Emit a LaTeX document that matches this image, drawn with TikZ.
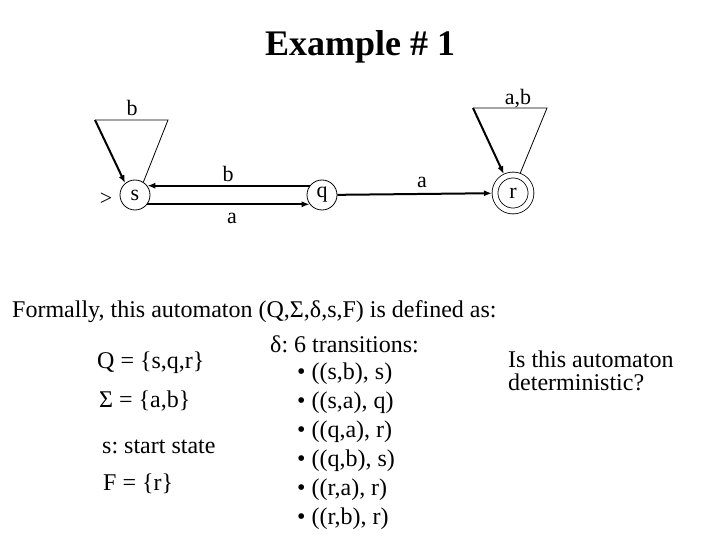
\documentclass[tikz,border=0pt]{standalone}
\usepackage{fontspec}
\setmainfont{Liberation Serif}
\frenchspacing
\usetikzlibrary{arrows.meta,positioning}

\tikzset{
  state/.style={draw,circle,line width=0.8bp,minimum size=30bp,inner sep=0pt,
    font=\fontsize{22bp}{26bp}\selectfont},
  accept/.style={state,minimum size=36bp,double,double distance=5bp,outer sep=3bp},
  trans/.style={line width=2bp,-{Latex[length=8bp,width=6bp]}},
  plain/.style={line width=0.8bp},
  lbl/.style={inner sep=0pt,anchor=base,font=\fontsize{22bp}{26bp}\selectfont},
  body/.style={inner sep=0pt,anchor=base west,font=\fontsize{24bp}{28bp}\selectfont},
}

\begin{document}
\begin{tikzpicture}[x=1bp,y=-1bp]
  \useasboundingbox (0,0) rectangle (720,540);
  \node[inner sep=0pt,anchor=base,font=\bfseries\fontsize{36bp}{40bp}\selectfont]
    (title) at (360,56) {Example \# 1};

  % states
  \node[state] (s) at (135,195) {s};
  \node[state] (q) at (322,195) {q};
  \node[accept] (r) at (513,193) {r};
  \node[lbl,anchor=center] (start) at (106,199) {>};

  % loop on s
  \coordinate (sl) at (95,120);
  \coordinate (sr) at (168,120);
  \draw[plain] (sl) -- (sr) -- (s.57);
  \draw[trans] (sl) -- (s.130);
  \node[lbl] (sb) at (132,116) {b};

  % s <-> q
  \draw[trans] (q.143) -- (s.37);
  \node[lbl] (qsb) at (228,182) {b};
  \draw[trans] (s.-37) -- (q.-143);
  \node[lbl] (sqa) at (232,224) {a};

  % q -> r
  \draw[trans] (q) -- (r);
  \node[lbl] (qra) at (422,188) {a};

  % loop on r
  \coordinate (rl) at (473,108);
  \coordinate (rr) at (547,108);
  \draw[plain] (rl) -- (rr) -- (r.70);
  \draw[trans] (rl) -- (r.116);
  \node[lbl] (rab) at (518,105) {a,b};

  % formal definition
  \node[body] (formal) at (12,317) {Formally, this automaton (Q,Σ,δ,s,F) is defined as:};
  \node[body] (delta) at (270,352) {δ: 6 transitions:};
  \node[body] (Qset) at (97,368) {Q = \{s,q,r\}};
  \node[body] (Sset) at (99,407) {Σ = \{a,b\}};
  \node[body] (startst) at (102,453) {s: start state};
  \node[body] (Fset) at (103,490) {F = \{r\}};
  \node[body] (ask1) at (508,367) {Is this automaton};
  \node[body] (ask2) at (508,390) {deterministic?};
  \foreach \t [count=\i] in {{((s,b), s)},{((s,a), q)},{((q,a), r)},
                             {((q,b), s)},{((r,a), r)},{((r,b), r)}}{
    \node[body] (t\i) at (297,350+29*\i) {• \t};}
\end{tikzpicture}
\end{document}
